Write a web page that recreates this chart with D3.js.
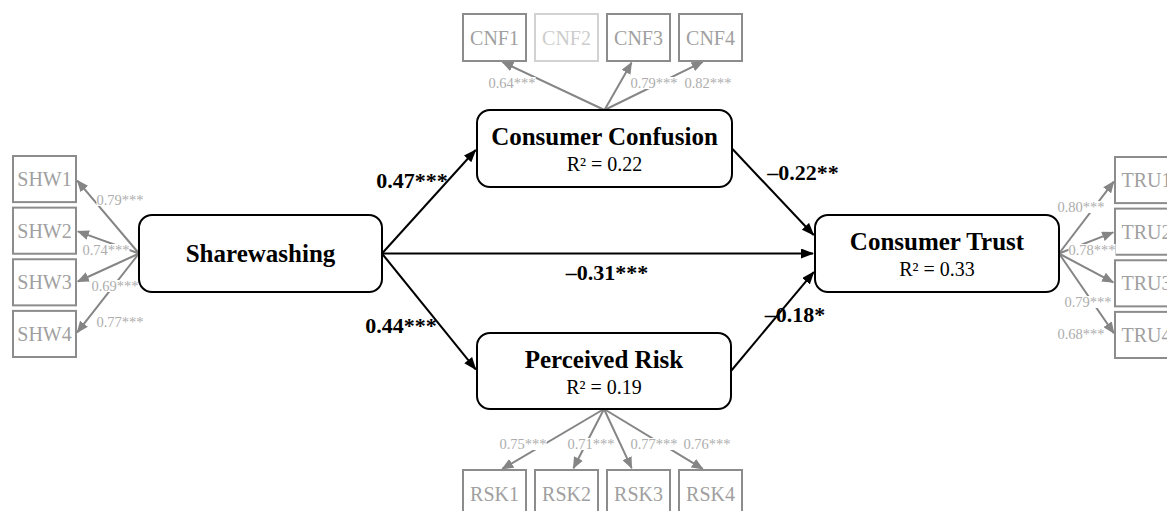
<!DOCTYPE html>
<html>
<head>
<meta charset="utf-8">
<script src="https://cdn.jsdelivr.net/npm/d3@7"></script>
<style>
  body { margin: 0; background: #fff; }
</style>
</head>
<body>
<div id="chart"></div>
<script>
// latent constructs and explained variance
var latents = ["Sharewashing", "Consumer Confusion", "Perceived Risk", "Consumer Trust"];
var latentR2 = [null, 0.22, 0.19, 0.33];

// structural paths
var pathFrom = ["Sharewashing", "Sharewashing", "Sharewashing", "Consumer Confusion", "Perceived Risk"];
var pathTo = ["Consumer Confusion", "Perceived Risk", "Consumer Trust", "Consumer Trust", "Consumer Trust"];
var pathCoef = [0.47, 0.44, -0.31, -0.22, -0.18];
var pathSig = ["***", "***", "***", "**", "*"];

// measurement items + loadings (null = item dropped)
var shwItems = ["SHW1", "SHW2", "SHW3", "SHW4"];
var shwLoad = [0.79, 0.74, 0.69, 0.77];
var cnfItems = ["CNF1", "CNF2", "CNF3", "CNF4"];
var cnfLoad = [0.64, null, 0.79, 0.82];
var rskItems = ["RSK1", "RSK2", "RSK3", "RSK4"];
var rskLoad = [0.75, 0.71, 0.77, 0.76];
var truItems = ["TRU1", "TRU2", "TRU3", "TRU4"];
var truLoad = [0.80, 0.78, 0.79, 0.68];
var loadSig = "***";

// ---- layout ----
var width = 1167, height = 511;
var serif = "'Liberation Serif', 'Times New Roman', serif";

var boxes = {
    "Sharewashing": { x: 139, y: 215, w: 243, h: 77 },
    "Consumer Confusion": { x: 477, y: 110, w: 255, h: 77 },
    "Perceived Risk": { x: 477, y: 333, w: 254, h: 76 },
    "Consumer Trust": { x: 815, y: 215, w: 244, h: 77 }
};

// label centres for the path coefficients
var pathLabelPos = [[412, 181], [401, 326], [607, 273], [803, 173], [795, 315]];

var svg = d3.select("#chart")
    .append("svg")
    .attr("width", width)
    .attr("height", height)
    .style("display", "block");

var defs = svg.append("defs");
function marker(id, color, len, wid) {
    defs.append("marker")
        .attr("id", id)
        .attr("markerUnits", "userSpaceOnUse")
        .attr("markerWidth", len)
        .attr("markerHeight", wid)
        .attr("refX", len - 1)
        .attr("refY", wid / 2)
        .attr("orient", "auto")
        .append("path")
        .attr("d", "M0,0 L" + len + "," + (wid / 2) + " L0," + wid + " Z")
        .attr("fill", color);
}
marker("arrBlack", "#000", 13, 10);
marker("arrGray", "#858585", 12, 10);

var gLines = svg.append("g");
var gBoxes = svg.append("g");
var gLabels = svg.append("g");

// item scales (band scales along each side)
var xTop = d3.scaleBand().domain(cnfItems).range([463, 742]).paddingInner(0.125);
var xBot = d3.scaleBand().domain(rskItems).range([463, 742]).paddingInner(0.125);
var yLeft = d3.scaleBand().domain(shwItems).range([156, 357]).paddingInner(0.107);
var yRight = d3.scaleBand().domain(truItems).range([157, 358]).paddingInner(0.107);
var itemW = 63, itemH = 46;

var groups = [
    { items: shwItems, load: shwLoad, latent: "Sharewashing", side: "left",
      labels: [[120, 200], [106, 250], [115, 286], [120, 322]] },
    { items: cnfItems, load: cnfLoad, latent: "Consumer Confusion", side: "top",
      labels: [[512, 83], null, [654, 83], [708, 83]] },
    { items: rskItems, load: rskLoad, latent: "Perceived Risk", side: "bottom",
      labels: [[523, 444], [591, 444], [654, 444], [707, 444]] },
    { items: truItems, load: truLoad, latent: "Consumer Trust", side: "right",
      labels: [[1081, 207], [1092, 250], [1088, 302], [1081, 334]] }
];

function itemRect(g, name) {
    if (g.side === "left") return { x: 13, y: yLeft(name), w: itemW, h: yLeft.bandwidth() };
    if (g.side === "right") return { x: 1115, y: yRight(name), w: itemW, h: yRight.bandwidth() };
    if (g.side === "top") return { x: xTop(name), y: 14, w: xTop.bandwidth(), h: itemH + 1 };
    return { x: xBot(name), y: 470, w: xBot.bandwidth(), h: itemH + 1 };
}

function shorten(x1, y1, x2, y2, d) {
    var L = Math.hypot(x2 - x1, y2 - y1);
    return [x2 - (x2 - x1) / L * d, y2 - (y2 - y1) / L * d];
}

groups.forEach(function (g) {
    var b = boxes[g.latent];
    var src;
    if (g.side === "left") src = [b.x, b.y + b.h / 2];
    else if (g.side === "right") src = [b.x + b.w, b.y + b.h / 2];
    else if (g.side === "top") src = [b.x + b.w / 2, b.y];
    else src = [b.x + b.w / 2, b.y + b.h];

    g.items.forEach(function (name, i) {
        var r = itemRect(g, name);
        var dropped = g.load[i] === null;
        var tgt;
        if (g.side === "left") tgt = [r.x + r.w, r.y + r.h / 2];
        else if (g.side === "right") tgt = [r.x, r.y + r.h / 2];
        else if (g.side === "top") tgt = [r.x + r.w / 2 + (src[0] > r.x + r.w / 2 ? 6 : -6), r.y + r.h];
        else tgt = [r.x + r.w / 2 + (src[0] > r.x + r.w / 2 ? 6 : -6), r.y];

        if (!dropped) {
            var end = shorten(src[0], src[1], tgt[0], tgt[1], 2);
            gLines.append("line")
                .attr("x1", src[0]).attr("y1", src[1])
                .attr("x2", end[0]).attr("y2", end[1])
                .attr("stroke", "#858585")
                .attr("stroke-width", 2)
                .attr("marker-end", "url(#arrGray)");
        }

        gBoxes.append("rect")
            .attr("x", r.x).attr("y", r.y)
            .attr("width", r.w).attr("height", r.h)
            .attr("fill", "#fff")
            .attr("stroke", dropped ? "#d2d2d2" : "#8c8c8c")
            .attr("stroke-width", 2);
        gBoxes.append("text")
            .attr("x", r.x + r.w / 2)
            .attr("y", r.y + r.h / 2 + 7)
            .attr("text-anchor", "middle")
            .attr("font-family", serif)
            .attr("font-size", "20px")
            .attr("fill", dropped ? "#cdcdcd" : "#a0a0a0")
            .text(name);

        if (!dropped) {
            var p = g.labels[i];
            var t = gLabels.append("text")
                .attr("x", p[0])
                .attr("y", p[1] + 5)
                .attr("text-anchor", "middle")
                .attr("font-family", serif)
                .attr("font-size", "14.5px")
                .attr("fill", "#adadad")
                .text(d3.format(".2f")(g.load[i]) + loadSig);
            var bb = t.node().getBBox();
            gLabels.insert("rect", function () { return t.node(); })
                .attr("x", bb.x).attr("y", bb.y + 2)
                .attr("width", bb.width).attr("height", bb.height - 4)
                .attr("fill", "#fff");
        }
    });
});

// ---- structural paths ----
var gPaths = svg.append("g");
pathFrom.forEach(function (f, i) {
    var a = boxes[f], b = boxes[pathTo[i]];
    var sx = a.x + a.w, sy = a.y + a.h / 2;
    var ty = b.y + b.h / 2;
    var tx = b.x;
    if (pathTo[i] === "Consumer Trust") ty = ty + Math.sign(sy - ty) * 17;
    var end = shorten(sx, sy, tx, ty, 2);
    gPaths.append("line")
        .attr("x1", sx).attr("y1", sy)
        .attr("x2", end[0]).attr("y2", end[1])
        .attr("stroke", "#000")
        .attr("stroke-width", 2)
        .attr("marker-end", "url(#arrBlack)");
    var v = pathCoef[i];
    gPaths.append("text")
        .attr("x", pathLabelPos[i][0])
        .attr("y", pathLabelPos[i][1] + 7)
        .attr("text-anchor", "middle")
        .attr("font-family", serif)
        .attr("font-weight", "bold")
        .attr("font-size", "22px")
        .attr("fill", "#000")
        .text((v < 0 ? "\u2013" : "") + Math.abs(v).toFixed(2) + pathSig[i]);
});

// ---- latent boxes ----
var gLat = svg.append("g");
latents.forEach(function (name, i) {
    var b = boxes[name];
    gLat.append("rect")
        .attr("x", b.x).attr("y", b.y)
        .attr("width", b.w).attr("height", b.h)
        .attr("rx", 13).attr("ry", 13)
        .attr("fill", "#fff")
        .attr("stroke", "#000")
        .attr("stroke-width", 2);
    var hasR2 = latentR2[i] !== null;
    gLat.append("text")
        .attr("x", b.x + b.w / 2)
        .attr("y", hasR2 ? b.y + 35 : b.y + b.h / 2 + 8)
        .attr("text-anchor", "middle")
        .attr("font-family", serif)
        .attr("font-weight", "bold")
        .attr("font-size", "25px")
        .attr("fill", "#000")
        .text(name);
    if (hasR2) {
        gLat.append("text")
            .attr("x", b.x + b.w / 2)
            .attr("y", b.y + 61)
            .attr("text-anchor", "middle")
            .attr("font-family", serif)
            .attr("font-size", "20px")
            .attr("fill", "#000")
            .text("R\u00B2 = " + latentR2[i].toFixed(2));
    }
});
</script>
</body>
</html>
